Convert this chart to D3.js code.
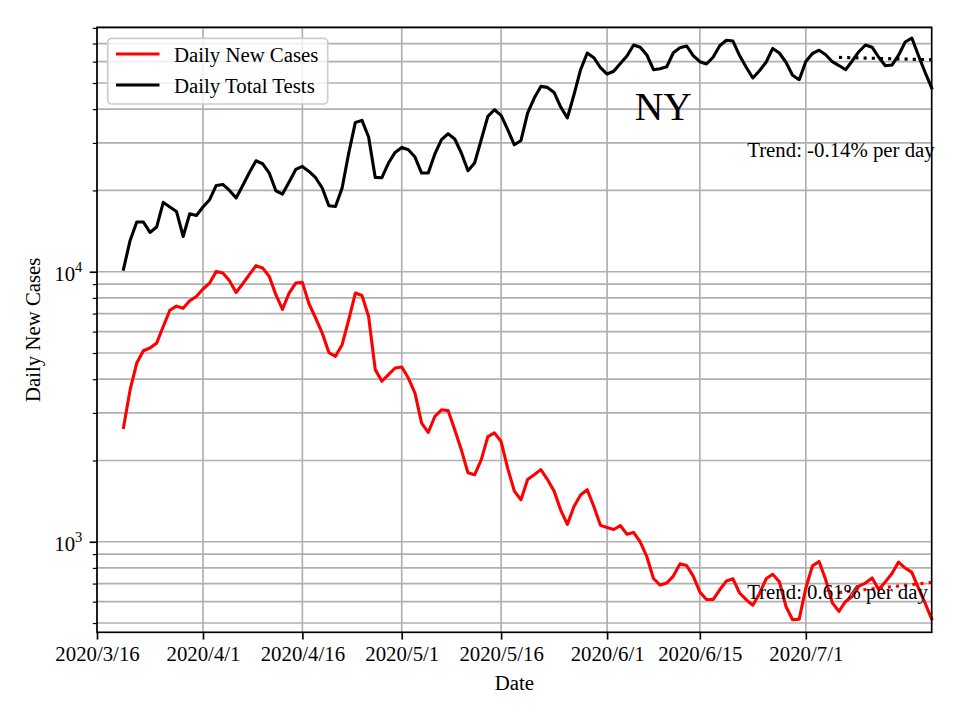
<!DOCTYPE html>
<html><head><meta charset="utf-8">
<script src="https://cdn.jsdelivr.net/npm/d3@7"></script>
<style>
body{margin:0;background:#fff}
svg text{font-family:"Liberation Serif","Times New Roman",Times,serif;fill:#000}
</style>
</head><body>
<svg id="chart" width="960" height="720"></svg>
<script>
// ---------------- data ----------------
const startDate = "2020-03-20";           // first daily observation
const xDomain = ["2020-03-16", "2020-07-20"];
const yDomain = [462, 80400];
const seriesNames = ["Daily New Cases", "Daily Total Tests"];
const seriesColors = ["#ff0000", "#000000"];
const dailyNewCases = [
  2650, 3656, 4590, 5100, 5220, 5440, 6270, 7200, 7460, 7320,
  7810, 8100, 8630, 9080, 10030, 9890, 9260, 8380, 9030, 9750,
  10530, 10320, 9610, 8220, 7250, 8340, 9080, 9130, 7610, 6740,
  5930, 5020, 4860, 5370, 6640, 8340, 8170, 6830, 4340, 3930,
  4160, 4400, 4440, 4040, 3550, 2750, 2540, 2910, 3080, 3060,
  2600, 2190, 1800, 1770, 2010, 2450, 2530, 2350, 1870, 1540,
  1430, 1700, 1770, 1850, 1700, 1540, 1310, 1160, 1350, 1490,
  1560, 1350, 1150, 1130, 1110, 1148, 1066, 1083, 998, 880,
  731, 691, 703, 746, 828, 817, 746, 652, 611, 611,
  664, 715, 729, 646, 610, 582, 642, 729, 758, 711,
  576, 514, 517, 674, 814, 845, 723, 594, 552, 601,
  627, 685, 703, 734, 666, 710, 763, 841, 799, 770,
  675, 593, 518
];
const dailyTotalTests = [
  10230, 13060, 15280, 15280, 13980, 14640, 18060, 17360, 16720, 13510,
  16400, 16160, 17360, 18480, 20870, 21050, 20000, 18750, 20870, 23320,
  25770, 25120, 23200, 19950, 19400, 21490, 23920, 24550, 23520, 22290,
  20420, 17550, 17450, 20420, 27520, 35730, 36350, 31540, 22350, 22290,
  25270, 27660, 28860, 28300, 26590, 23200, 23200, 27290, 30830, 32440,
  31010, 27520, 23660, 25270, 30830, 37610, 39810, 37930, 33570, 29530,
  30640, 38710, 43990, 48570, 48160, 46150, 40740, 37100, 45250, 56000,
  64570, 62030, 56950, 53970, 55280, 59080, 62940, 69150, 67870, 63480,
  56000, 56480, 57440, 64730, 67550, 68560, 63100, 59950, 58780, 62290,
  68710, 72010, 71520, 63200, 57190, 52160, 55520, 59690, 67140, 64570,
  59690, 53430, 51420, 60100, 64300, 66140, 63640, 59950, 58030, 56000,
  60310, 65290, 69150, 67870, 62290, 57940, 58280, 63380, 70910, 73370,
  63200, 54820, 47910
];
const xTickDates  = ["2020-03-16","2020-04-01","2020-04-16","2020-05-01","2020-05-16","2020-06-01","2020-06-15","2020-07-01"];
const xTickLabels = ["2020/3/16","2020/4/1","2020/4/16","2020/5/1","2020/5/16","2020/6/1","2020/6/15","2020/7/1"];
const yMajorTicks = [1000, 10000];
const yMajorExponents = ["3", "4"];
const trendDates = ["2020-07-06", "2020-07-20"];
const casesTrend = [649, 707];
const testsTrend = [62190, 60980];
const trendLabels = ["Trend: 0.61% per day", "Trend: -0.14% per day"];
const trendLabelDate = "2020-06-22";
const trendLabelValues = [612, 26550];
const stateName = "NY";
const stateLabelDate = "2020-06-10";
const stateLabelValue = 36600;

// ---------------- layout ----------------
const L = 97, R = 931.7, T = 27.3, B = 632.3;
const FS = 20.8;
const parse = d3.utcParse("%Y-%m-%d");
const svg = d3.select("#chart");

const x = d3.scaleUtc().domain(xDomain.map(parse)).range([L, R]);
const y = d3.scaleLog().domain(yDomain).range([B, T]);

const start = parse(startDate);
const dates = dailyNewCases.map((_, i) => d3.utcDay.offset(start, i));

// minor log ticks
const yMinor = [];
[100, 1000, 10000].forEach(dec => { for (let k = 2; k <= 9; k++) { const v = k * dec; if (v >= yDomain[0] && v <= yDomain[1]) yMinor.push(v); } });
const yAllGrid = yMajorTicks.concat(yMinor);

// grid
const grid = svg.append("g").attr("stroke", "#b0b0b0").attr("stroke-width", 1.67);
grid.selectAll("line.gy").data(yAllGrid).join("line")
  .attr("x1", L).attr("x2", R).attr("y1", d => y(d)).attr("y2", d => y(d));
grid.selectAll("line.gx").data(xTickDates).join("line")
  .attr("y1", T).attr("y2", B).attr("x1", d => x(parse(d))).attr("x2", d => x(parse(d)));

// series lines
const line = d3.line().x((d, i) => x(dates[i])).y(d => y(d));
[dailyNewCases, dailyTotalTests].forEach((s, k) => {
  svg.append("path").datum(s).attr("d", line)
    .attr("fill", "none").attr("stroke", seriesColors[k]).attr("stroke-width", 3.1)
    .attr("stroke-linejoin", "round").attr("stroke-linecap", "square");
});

// trend lines
const tline = d3.line().x((d, i) => x(parse(trendDates[i]))).y(d => y(d));
[casesTrend, testsTrend].forEach((s, k) => {
  svg.append("path").datum(s).attr("d", tline)
    .attr("fill", "none").attr("stroke", seriesColors[k]).attr("stroke-width", 3.1)
    .attr("stroke-dasharray", "3.1,5.1").attr("stroke-linecap", "butt");
});

// trend texts
trendLabels.forEach((t, k) => {
  svg.append("text").attr("x", x(parse(trendLabelDate)) + 1).attr("y", y(trendLabelValues[k]))
    .attr("font-size", FS).text(t);
});
// state label
svg.append("text").attr("x", x(parse(stateLabelDate)) - 3.5).attr("y", y(stateLabelValue))
  .attr("text-anchor", "middle").attr("font-size", 39.5).text(stateName);

// spines
svg.append("rect").attr("x", L).attr("y", T).attr("width", R - L).attr("height", B - T)
  .attr("fill", "none").attr("stroke", "#000").attr("stroke-width", 1.67);

// x axis
const xAxis = svg.append("g").attr("transform", `translate(0,${B})`)
  .call(d3.axisBottom(x).tickValues(xTickDates.map(parse))
    .tickFormat((d, i) => xTickLabels[i]).tickSize(7.3).tickSizeOuter(0).tickPadding(6.5));
xAxis.select(".domain").remove();
xAxis.selectAll(".tick line").attr("stroke", "#000").attr("stroke-width", 1.67);
xAxis.selectAll(".tick text").attr("font-size", FS).attr("font-family", null).attr("fill", "#000");

// y axis major ticks
const yAx = svg.append("g").attr("transform", `translate(${L},0)`)
  .call(d3.axisLeft(y).tickValues(yMajorTicks).tickFormat("").tickSize(7.3).tickSizeOuter(0));
yAx.select(".domain").remove();
yAx.selectAll(".tick line").attr("stroke", "#000").attr("stroke-width", 1.67);
const yAxMinor = svg.append("g").attr("transform", `translate(${L},0)`)
  .call(d3.axisLeft(y).tickValues(yMinor).tickFormat("").tickSize(4.2).tickSizeOuter(0));
yAxMinor.select(".domain").remove();
yAxMinor.selectAll(".tick line").attr("stroke", "#000").attr("stroke-width", 1.2);

// y tick labels 10^n
yMajorTicks.forEach((v, i) => {
  const t = svg.append("text").attr("x", L - 14.6).attr("y", y(v) + 9)
    .attr("text-anchor", "end").attr("font-size", FS);
  t.append("tspan").text("10");
  t.append("tspan").attr("font-size", 14.6).attr("dy", -9).text(yMajorExponents[i]);
});

// axis titles
svg.append("text").attr("x", (L + R) / 2).attr("y", 690).attr("text-anchor", "middle")
  .attr("font-size", FS).text("Date");
svg.append("text").attr("transform", `translate(39.5,${(T + B) / 2}) rotate(-90)`)
  .attr("text-anchor", "middle").attr("font-size", FS).text(seriesNames[0]);

// legend
const lg = svg.append("g");
lg.append("rect").attr("x", 107.7).attr("y", 38.3).attr("width", 220).attr("height", 65.7)
  .attr("rx", 4).attr("fill", "#fff").attr("fill-opacity", 0.8)
  .attr("stroke", "#cccccc").attr("stroke-width", 1.67);
seriesNames.forEach((n, k) => {
  const cy = 54 + k * 31;
  lg.append("line").attr("x1", 116).attr("x2", 159.5).attr("y1", cy).attr("y2", cy)
    .attr("stroke", seriesColors[k]).attr("stroke-width", 3.1);
  lg.append("text").attr("x", 174).attr("y", cy + 7.5).attr("font-size", FS).text(n);
});
</script>
</body></html>
